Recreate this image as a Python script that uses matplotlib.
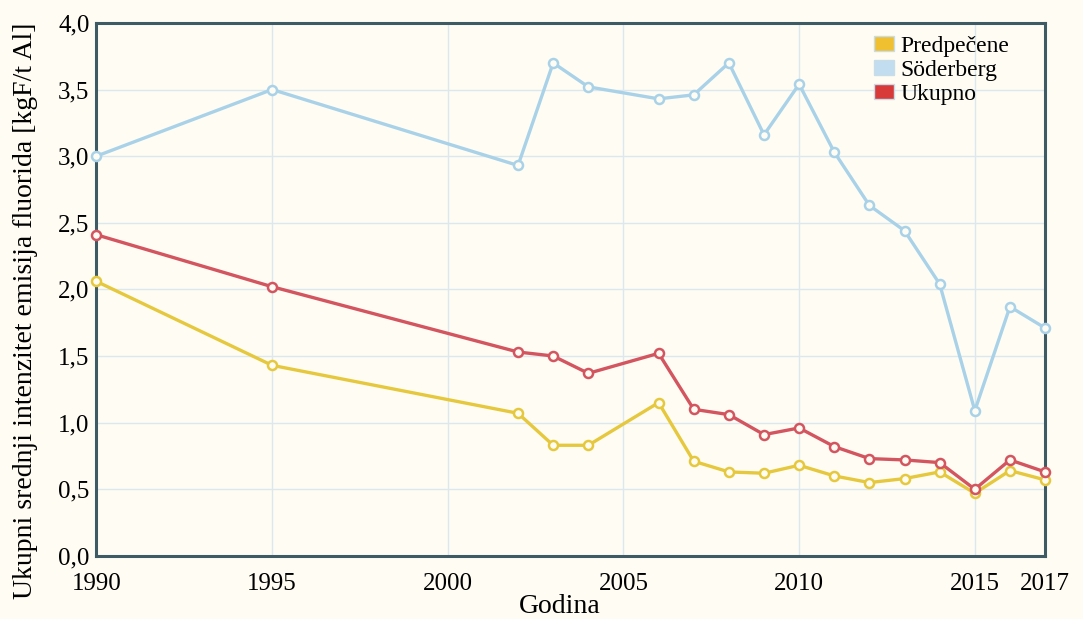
import matplotlib.pyplot as plt
from matplotlib.patches import Patch
from matplotlib.ticker import FuncFormatter

years = [1990, 1995, 2002, 2003, 2004, 2006, 2007, 2008, 2009, 2010,
         2011, 2012, 2013, 2014, 2015, 2016, 2017]
predpecene = [2.06, 1.43, 1.07, 0.83, 0.83, 1.15, 0.71, 0.63, 0.62, 0.68,
              0.60, 0.55, 0.58, 0.63, 0.47, 0.64, 0.57]
soderberg = [3.00, 3.50, 2.93, 3.70, 3.52, 3.43, 3.46, 3.70, 3.16, 3.54,
             3.03, 2.63, 2.44, 2.04, 1.09, 1.87, 1.71]
ukupno = [2.41, 2.02, 1.53, 1.50, 1.37, 1.52, 1.10, 1.06, 0.91, 0.96,
          0.82, 0.73, 0.72, 0.70, 0.50, 0.72, 0.63]

x_ticks = [1990, 1995, 2000, 2005, 2010, 2015, 2017]
y_ticks = [0.0, 0.5, 1.0, 1.5, 2.0, 2.5, 3.0, 3.5, 4.0]

bg = "#fffdf3"
plt.rcParams["font.family"] = ["Liberation Serif", "DejaVu Serif"]

fig = plt.figure(figsize=(10.83, 6.19), dpi=100, facecolor=bg)
ax = fig.add_axes([0.089, 0.102, 0.876, 0.861], facecolor=bg)

ax.grid(True, color="#dde8ee", linewidth=1.0)
ax.set_axisbelow(True)

style = dict(linewidth=2.4, marker="o", markersize=6.5,
             markeredgewidth=1.8, markerfacecolor=bg, clip_on=False)
ax.plot(years, soderberg, color="#a9d2e8", zorder=3, **style)
ax.plot(years, predpecene, color="#e6c83e", zorder=4, **style)
ax.plot(years, ukupno, color="#d35560", zorder=5, **style)

ax.set_xlim(1990, 2017)
ax.set_ylim(0, 4)
ax.set_xticks(x_ticks)
ax.set_yticks(y_ticks)
ax.yaxis.set_major_formatter(
    FuncFormatter(lambda v, p: f"{v:.1f}".replace(".", ",")))
ax.tick_params(length=0, labelsize=18)
ax.tick_params(axis="x", pad=12)
ax.tick_params(axis="y", pad=5)

for s in ax.spines.values():
    s.set_color("#3e5a64")
    s.set_linewidth(2.2)

ax.set_xlabel("Godina", fontsize=20)
ax.xaxis.set_label_coords(0.488, -0.072)
ax.set_ylabel("Ukupni srednji intenzitet emisija fluorida [kgF/t Al]",
              fontsize=20)
ax.yaxis.set_label_coords(-0.062, 0.46)

handles = [Patch(facecolor="#f0c030", edgecolor="#c8dde8"),
           Patch(facecolor="#c2ddf0", edgecolor="#c8dde8"),
           Patch(facecolor="#d83a3a", edgecolor="#c8dde8")]
ax.legend(handles, ["Predpečene", "Söderberg", "Ukupno"],
          loc="upper right", bbox_to_anchor=(0.985, 1.015), frameon=False,
          fontsize=17, handlelength=0.85, handleheight=0.6,
          handletextpad=0.3, labelspacing=0.12)

fig.savefig("out.png", dpi=100, facecolor=bg)
